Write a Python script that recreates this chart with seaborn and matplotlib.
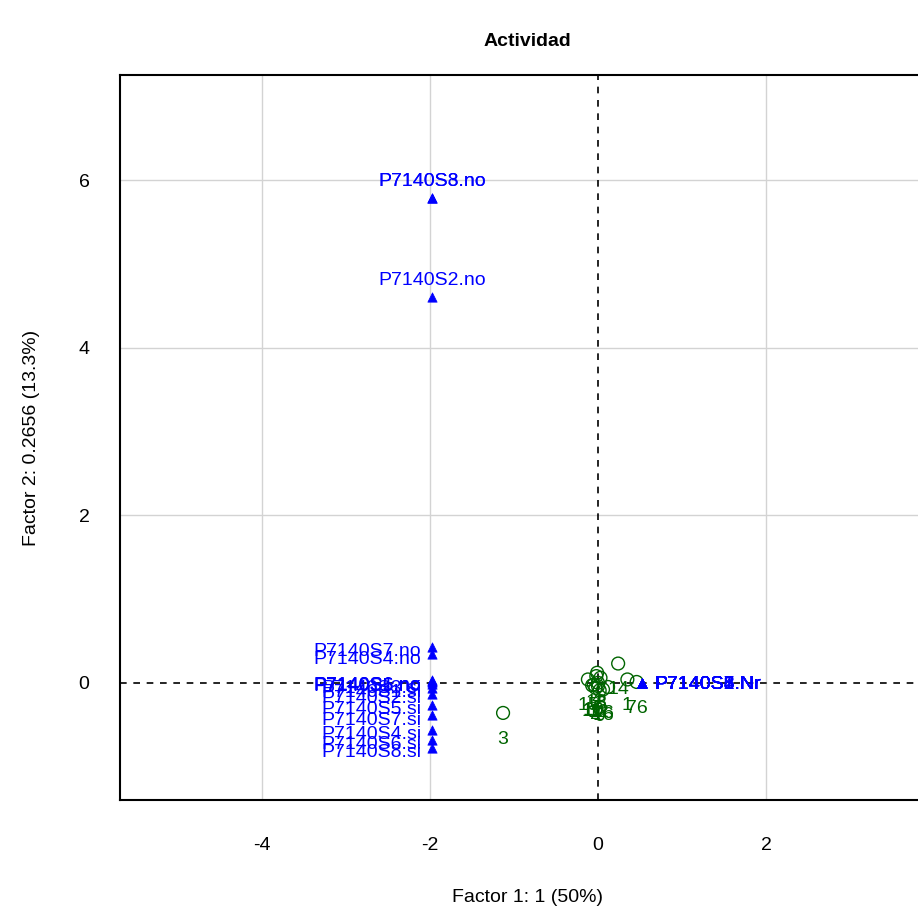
import numpy as np
import pandas as pd
import matplotlib
matplotlib.use("Agg")
import matplotlib.pyplot as plt
import seaborn as sns

# MCA categories (blue triangles)
cat_labels = [
    "P7140S3.no", "P7140S8.no", "P7140S2.no",
    "P7140S7.no", "P7140S4.no",
    "P7140S1.no", "P7140S5.no", "P7140S6.no", "P7140S3.si", "P7140S1.si",
    "P7140S2.si", "P7140S5.si", "P7140S7.si", "P7140S4.si", "P7140S6.si", "P7140S8.si",
    "P7140S1.Nr", "P7140S2.Nr", "P7140S3.Nr", "P7140S4.Nr",
    "P7140S5.Nr", "P7140S6.Nr", "P7140S7.Nr", "P7140S8.Nr",
]
cat_x = [-1.97] * 16 + [0.52] * 8
cat_y = [
    5.79, 5.79, 4.61,
    0.43, 0.34,
    0.02, 0.01, 0.03, -0.01, -0.06,
    -0.13, -0.26, -0.39, -0.56, -0.68, -0.78,
    0.0, 0.0, 0.0, 0.0, 0.0, 0.0, 0.0, 0.0,
]
# where each label sits relative to its point
cat_side = ["top"] * 3 + ["left"] * 13 + ["right"] * 8

# individuals (green circles)
ind_labels = ["3", "14", "1", "76", "15", "4", "6", "5", "2", "9", "10", "8", "12", "13", "16", "11"]
ind_x = [-1.13, 0.24, 0.35, 0.46, -0.12, -0.01, 0.12, 0.0, -0.03, 0.02, -0.05, 0.03, 0.0, -0.02, 0.06, -0.07]
ind_y = [-0.36, 0.23, 0.04, 0.01, 0.04, 0.12, -0.05, 0.0, -0.06, -0.09, -0.02, 0.06, -0.04, 0.08, -0.08, -0.03]

x_ticks = [-4, -2, 0, 2]
y_ticks = [0, 2, 4, 6]

sns.set_style("white")
plt.rcParams['font.family'] = ['Liberation Sans', 'DejaVu Sans']
plt.rcParams['axes.unicode_minus'] = False
plt.rcParams['text.color'] = 'black'
plt.rcParams['axes.labelcolor'] = 'black'
plt.rcParams['xtick.color'] = 'black'
plt.rcParams['ytick.color'] = 'black'

cats = pd.DataFrame({"x": cat_x, "y": cat_y, "label": cat_labels, "side": cat_side})
inds = pd.DataFrame({"x": ind_x, "y": ind_y, "label": ind_labels})

fig = plt.figure(figsize=(9.18, 9.19), dpi=100)
ax = fig.add_axes([120 / 918, 119 / 919, 814 / 918, 725 / 919])
ax.set_xlim(-5.69, 4.0)
ax.set_ylim(-1.40, 7.26)

# light grid, dashed origin lines
for v in x_ticks:
    if v != 0:
        ax.axvline(v, color="#d3d3d3", lw=1, zorder=0)
for v in y_ticks:
    if v != 0:
        ax.axhline(v, color="#d3d3d3", lw=1, zorder=0)
ax.axhline(0, color="black", lw=1.2, ls=(0, (4, 4)), zorder=1)
ax.axvline(0, color="black", lw=1.2, ls=(0, (4, 4)), zorder=1)

sns.scatterplot(data=inds, x="x", y="y", ax=ax, marker="o", s=85,
                facecolor="none", edgecolor="darkgreen", linewidth=1, zorder=3)
sns.scatterplot(data=cats, x="x", y="y", ax=ax, marker="^", s=45,
                color="blue", edgecolor="blue", linewidth=0.5, zorder=4)

for _, r in inds.iterrows():
    ax.annotate(r["label"], (r["x"], r["y"]), xytext=(0, -19), textcoords="offset points",
                ha="center", va="center", fontsize=14, color="darkgreen", zorder=5)

offsets = {"top": ((0, 12), "center"), "left": ((-8, -3.5), "right"), "right": ((9, -1.5), "left")}
for _, r in cats.iterrows():
    off, ha = offsets[r["side"]]
    ax.annotate(r["label"], (r["x"], r["y"]), xytext=off, textcoords="offset points",
                ha=ha, va="center", fontsize=14, color="blue", zorder=5)

ax.set_xticks(x_ticks)
ax.set_yticks(y_ticks)
ax.tick_params(direction="out", length=10, width=1, labelsize=14, color="black")
ax.tick_params(axis="x", pad=17)
ax.tick_params(axis="y", pad=12)
for s in ax.spines.values():
    s.set_color("black")
    s.set_linewidth(1.5)

ax.set_xlabel("Factor 1: 1 (50%)", fontsize=14, labelpad=25)
ax.set_ylabel("Factor 2: 0.2656 (13.3%)", fontsize=14, labelpad=28)
fig.text(527 / 918, 1 - 41 / 919, "Actividad", ha="center", va="center",
         fontsize=14, fontweight="bold")

fig.savefig("out.png", dpi=100)
